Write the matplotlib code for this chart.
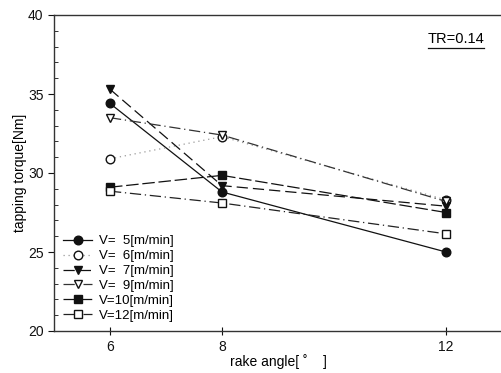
import numpy as np
import matplotlib
matplotlib.use('Agg')
import matplotlib.pyplot as plt
from matplotlib.ticker import MultipleLocator
from matplotlib.lines import Line2D

plt.rcParams['font.family'] = ['Liberation Sans', 'DejaVu Sans']

# DATA --->
rake_angle = [6, 8, 12]
v5 = [34.4, 28.8, 25.0]
v6 = [30.9, 32.3, 28.3]
v7 = [35.3, 29.2, 27.9]
v9 = [33.5, 32.4, 28.2]
v10 = [29.1, 29.85, 27.5]
v12 = [28.85, 28.1, 26.15]
labels = ['V=  5[m/min]', 'V=  6[m/min]', 'V=  7[m/min]',
          'V=  9[m/min]', 'V=10[m/min]', 'V=12[m/min]']
# <--- DATA

fig = plt.figure(figsize=(5.02, 3.73), dpi=100)
ax = fig.add_axes([54/502, 42/373, 448/502, 316/373])

col = '#111111'
ms = 6.2
lw = 0.9

ax.plot(rake_angle, v5, color=col, lw=lw, ls='-', marker='o', ms=ms,
        mfc=col, mec=col, label=labels[0])
ax.plot(rake_angle, v6, color='#999999', lw=lw, ls=(0, (1, 3)), marker='o',
        ms=ms, mfc='white', mec=col, label=labels[1])
ax.plot(rake_angle, v7, color=col, lw=lw, ls=(0, (9, 4)), marker='v',
        ms=ms, mfc=col, mec=col, label=labels[2])
ax.plot(rake_angle, v9, color='#333333', lw=lw, ls=(0, (9, 3, 1, 3)),
        marker='v', ms=ms, mfc='white', mec=col, label=labels[3])
ax.plot(rake_angle, v10, color=col, lw=lw, ls=(0, (10, 3)), marker='s',
        ms=ms-0.3, mfc=col, mec=col, label=labels[4])
ax.plot(rake_angle, v12, color='#222222', lw=lw, ls=(0, (9, 3, 1, 3)),
        marker='s', ms=ms-0.7, mfc='white', mec=col, label=labels[5])

ax.set_xlim(5, 13)
ax.set_ylim(20, 40)
ax.set_xticks(rake_angle)
ax.set_yticks([20, 25, 30, 35, 40])
ax.yaxis.set_minor_locator(MultipleLocator(1))
ax.tick_params(axis='y', which='major', direction='out', length=4,
               labelsize=10, colors=col)
ax.tick_params(axis='y', which='minor', direction='in', length=3, color=col)
ax.tick_params(axis='x', which='major', direction='inout', length=6,
               labelsize=10, colors=col)

for s in ['left', 'bottom', 'top']:
    ax.spines[s].set_color('#333333')
    ax.spines[s].set_linewidth(1.0)
ax.spines['right'].set_visible(False)

ax.set_xlabel('rake angle[ ˚    ]', fontsize=10, labelpad=0)
ax.set_ylabel('tapping torque[Nm]', fontsize=10, labelpad=1)

# TR label, underlined
ax.text(0.96, 0.925, 'TR=0.14', transform=ax.transAxes, ha='right',
        va='center', fontsize=10.5)
ax.add_line(Line2D([0.835, 0.96], [0.895, 0.895], transform=ax.transAxes,
                   color=col, lw=0.9))

ax.legend(loc='lower left', bbox_to_anchor=(0.0, 0.0), frameon=False,
          fontsize=9.5, handlelength=2.2, handletextpad=0.5,
          labelspacing=0.2, borderaxespad=0.3)

fig.savefig('out.png', dpi=100)
